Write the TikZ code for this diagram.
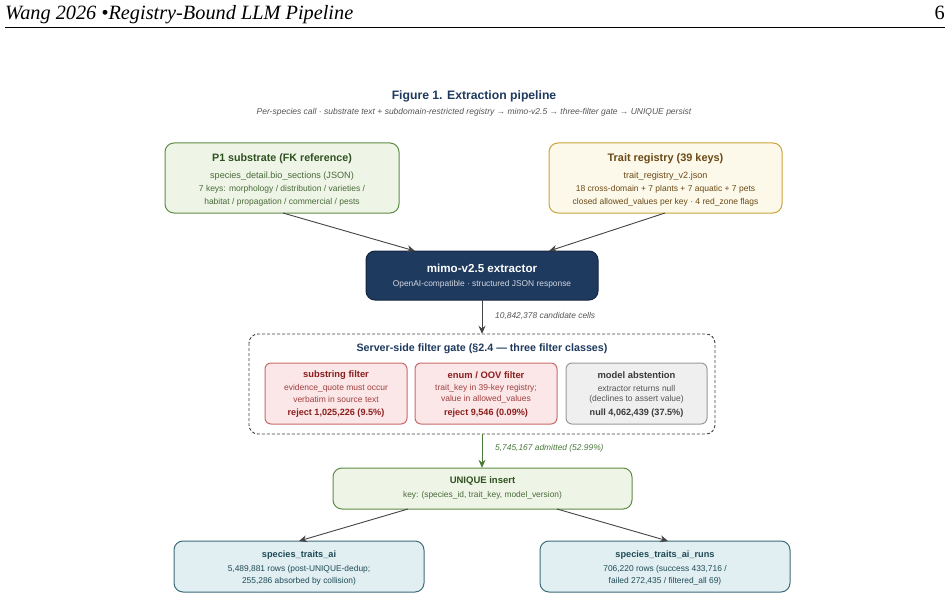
\documentclass[tikz,border=0pt]{standalone}
\usepackage{fontspec}
\setmainfont{Liberation Sans}
\newfontfamily\hdrfont{Liberation Serif}
\usetikzlibrary{arrows.meta}
\definecolor{navy}{HTML}{1F3A5F}
\definecolor{navyedge}{HTML}{14263F}
\definecolor{gfill}{HTML}{EEF5E6}
\definecolor{gedge}{HTML}{5E8C45}
\definecolor{gtitle}{HTML}{2F5020}
\definecolor{gtext}{HTML}{4A6A3A}
\definecolor{cfill}{HTML}{FDF9EA}
\definecolor{cedge}{HTML}{C9A43A}
\definecolor{ctext}{HTML}{6A4A16}
\definecolor{rfill}{HTML}{FBE7E7}
\definecolor{redge}{HTML}{C76B6B}
\definecolor{rtitle}{HTML}{8B1E1E}
\definecolor{rtext}{HTML}{A04040}
\definecolor{kfill}{HTML}{EFEFEF}
\definecolor{kedge}{HTML}{9A9A9A}
\definecolor{ktitle}{HTML}{3A3A3A}
\definecolor{ktext}{HTML}{555555}
\definecolor{bfill}{HTML}{E1EFF3}
\definecolor{bedge}{HTML}{3E6D7A}
\definecolor{btext}{HTML}{1F4A55}
\definecolor{arr}{HTML}{444444}
\definecolor{garr}{HTML}{4A7A3A}
\newcommand{\fs}[1]{\fontsize{#1}{#1}\selectfont}
\tikzset{
  box/.style={rounded corners=9pt, line width=1pt},
  txt/.style={inner sep=0pt, anchor=center},
  conn/.style={draw=arr, line width=0.9pt, -{Stealth[length=8pt,width=7pt]}},
  gconn/.style={draw=garr, line width=0.9pt, -{Stealth[length=8pt,width=7pt]}},
}
\begin{document}
\begin{tikzpicture}[x=1pt,y=-1pt]
\useasboundingbox[fill=white] (0,0) rectangle (948,599);
% header
\node[txt, anchor=base west] (hdr) at (5,20) {\hdrfont\itshape\fs{20.3}Wang 2026 \textbullet Registry-Bound LLM Pipeline};
\node[txt, anchor=base east] (pg) at (945,20) {\hdrfont\fs{20.3}6};
\draw[line width=1.3pt] (5,27.5) -- (945,27.5);
% title
\node[txt, text=navy] (title) at (474,96) {\fs{12.2}\bfseries Figure 1. Extraction pipeline};
\node[txt, text=ktext] (sub) at (474,112.5) {\fs{8.5}\itshape Per-species call · substrate text + subdomain-restricted registry → mimo-v2.5 → three-filter gate → UNIQUE persist};
% P1 box
\draw[box, draw=gedge, fill=gfill] (165,143) rectangle (399,213);
\node[draw=none, minimum width=234pt, minimum height=70pt, inner sep=0pt] (p1) at (282,178) {};
\node[txt, text=gtitle] (p1a) at (282,159) {\fs{10.7}\bfseries P1 substrate (FK reference)};
\node[txt, text=gtext] (p1b) at (282,176) {\fs{9.1}species\_detail.bio\_sections (JSON)};
\node[txt, text=gtext] (p1c) at (282,189.5) {\fs{8.5}7 keys: morphology / distribution / varieties /};
\node[txt, text=gtext] (p1d) at (282,202) {\fs{8.5}habitat / propagation / commercial / pests};
% trait registry
\draw[box, draw=cedge, fill=cfill] (549,143) rectangle (782,213);
\node[draw=none, minimum width=233pt, minimum height=70pt, inner sep=0pt] (tr) at (665.5,178) {};
\node[txt, text=ctext] (tra) at (665.5,159) {\fs{10.9}\bfseries Trait registry (39 keys)};
\node[txt, text=ctext] (trb) at (665.5,176) {\fs{9.1}trait\_registry\_v2.json};
\node[txt, text=ctext] (trc) at (665.5,189.5) {\fs{8.5}18 cross-domain + 7 plants + 7 aquatic + 7 pets};
\node[txt, text=ctext] (trd) at (665.5,202) {\fs{8.5}closed allowed\_values per key · 4 red\_zone flags};
% mimo
\draw[box, draw=navyedge, fill=navy] (366,251) rectangle (598,300);
\node[draw=none, minimum width=232pt, minimum height=49pt, inner sep=0pt] (mimo) at (482,275.5) {};
\node[txt, text=white] (mima) at (482,268) {\fs{11.6}\bfseries mimo-v2.5 extractor};
\node[txt, text=white!80!navy] (mimb) at (482,284) {\fs{8.4}OpenAI-compatible · structured JSON response};
% arrows into mimo
\coordinate (p1out) at (283,213);
\coordinate (mimin1) at (415,251);
\coordinate (trout) at (665,213);
\coordinate (mimin2) at (549,251);
\draw[conn] (p1out) -- (mimin1);
\draw[conn] (trout) -- (mimin2);
% gate
\draw[dashed, dash pattern=on 3pt off 2pt, line width=0.9pt, draw=arr, rounded corners=9pt] (249,334) rectangle (715,434);
\node[draw=none, minimum width=466pt, minimum height=100pt, inner sep=0pt] (gate) at (482,384) {};
\node[txt, text=navy] (gatet) at (482,349) {\fs{10.7}\bfseries Server-side filter gate (§2.4 — three filter classes)};
\draw[conn] (mimo.south) -- (gate.north);
\node[txt, anchor=west, text=ktext] (lab1) at (495,315.5) {\fs{8.4}\itshape 10,842,378 candidate cells};
% filter boxes
\draw[box, rounded corners=6pt, draw=redge, fill=rfill] (265,363) rectangle (407,424);
\node[draw=none, minimum width=142pt, minimum height=61pt, inner sep=0pt] (f1) at (336,393.5) {};
\node[txt, text=rtitle] (f1a) at (336,375) {\fs{9.4}\bfseries substring filter};
\node[txt, text=rtext] (f1b) at (336,388.5) {\fs{8.5}evidence\_quote must occur};
\node[txt, text=rtext] (f1c) at (336,399.5) {\fs{8.5}verbatim in source text};
\node[txt, text=rtitle] (f1d) at (336,413) {\fs{9.1}\bfseries reject 1,025,226 (9.5\%)};
\draw[box, rounded corners=6pt, draw=redge, fill=rfill] (415,363) rectangle (557,424);
\node[draw=none, minimum width=142pt, minimum height=61pt, inner sep=0pt] (f2) at (486,393.5) {};
\node[txt, text=rtitle] (f2a) at (486,375) {\fs{9.4}\bfseries enum / OOV filter};
\node[txt, text=rtext] (f2b) at (486,388.5) {\fs{8.5}trait\_key in 39-key registry;};
\node[txt, text=rtext] (f2c) at (486,399.5) {\fs{8.5}value in allowed\_values};
\node[txt, text=rtitle] (f2d) at (486,413) {\fs{9.1}\bfseries reject 9,546 (0.09\%)};
\draw[box, rounded corners=6pt, draw=kedge, fill=kfill] (566,363) rectangle (707,424);
\node[draw=none, minimum width=141pt, minimum height=61pt, inner sep=0pt] (f3) at (636.5,393.5) {};
\node[txt, text=ktitle] (f3a) at (636.5,375) {\fs{9.4}\bfseries model abstention};
\node[txt, text=ktext] (f3b) at (636.5,388.5) {\fs{8.5}extractor returns null};
\node[txt, text=ktext] (f3c) at (636.5,399.5) {\fs{8.5}(declines to assert value)};
\node[txt, text=ktitle] (f3d) at (636.5,413) {\fs{9.1}\bfseries null 4,062,439 (37.5\%)};
% unique
\draw[box, draw=gedge, fill=gfill] (333,468) rectangle (632,509);
\node[draw=none, minimum width=299pt, minimum height=41pt, inner sep=0pt] (uniq) at (482.5,488.5) {};
\node[txt, text=gtitle] (uqa) at (482.5,481) {\fs{9.5}\bfseries UNIQUE insert};
\node[txt, text=gtext] (uqb) at (482.5,495.5) {\fs{8.4}key: (species\_id, trait\_key, model\_version)};
\draw[gconn] (482,434) -- (uniq.north -| 482,468);
\node[txt, anchor=west, text=garr] (lab2) at (495,448.5) {\fs{8.4}\itshape 5,745,167 admitted (52.99\%)};
% outputs
\draw[box, draw=bedge, fill=bfill] (174,541) rectangle (424,592);
\node[draw=none, minimum width=250pt, minimum height=51pt, inner sep=0pt] (sta) at (299,566.5) {};
\node[txt, text=btext] (staa) at (299,555) {\fs{9.2}\bfseries species\_traits\_ai};
\node[txt, text=btext] (stab) at (299,569) {\fs{8.4}5,489,881 rows (post-UNIQUE-dedup;};
\node[txt, text=btext] (stac) at (299,581.5) {\fs{8.4}255,286 absorbed by collision)};
\draw[box, draw=bedge, fill=bfill] (540,541) rectangle (790,592);
\node[draw=none, minimum width=250pt, minimum height=51pt, inner sep=0pt] (str) at (665,566.5) {};
\node[txt, text=btext] (stra) at (665,555) {\fs{9.2}\bfseries species\_traits\_ai\_runs};
\node[txt, text=btext] (strb) at (665,569) {\fs{8.4}706,220 rows (success 433,716 /};
\node[txt, text=btext] (strc) at (665,581.5) {\fs{8.4}failed 272,435 / filtered\_all 69)};
\coordinate (uq1) at (408,509);
\coordinate (uq2) at (557,509);
\coordinate (sta_in) at (299,541);
\coordinate (str_in) at (668,541);
\draw[conn] (uq1) -- (sta_in);
\draw[conn] (uq2) -- (str_in);
\end{tikzpicture}
\end{document}
